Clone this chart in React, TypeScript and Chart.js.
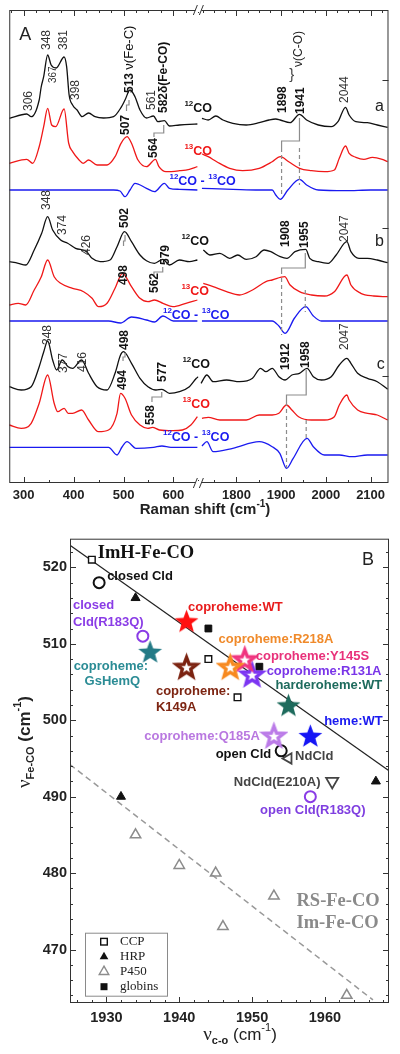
import React, { useEffect, useRef } from 'react';
import { Chart, registerables } from 'chart.js';

Chart.register(...registerables);

const SANS = '"Liberation Sans", Arial, Helvetica, sans-serif';
const SERIF = '"Liberation Serif", "Times New Roman", serif';

// ================= Panel A : resonance Raman spectra =================
const ramanTicksLow = [300, 400, 500, 600];
const ramanTicksHigh = [1800, 1900, 2000, 2100];
const ramanRangeLow = [271, 650];
const ramanRangeHigh = [1715, 2140];
const intensityRange = [0, 473];
const intensityTicks = [107, 255, 403];

// trace a (coproheme WT)
const a12Shift = [271, 306, 315, 331, 335, 340, 348, 355, 365, 381, 386, 391, 398, 407, 417, 430, 443, 460, 480, 496, 503, 513, 523, 533, 546, 560, 569, 582, 592, 612, 632, 648,
  1723, 1737, 1754, 1770, 1792, 1822, 1851, 1873, 1888, 1898, 1920, 1941, 1957, 1983, 2012, 2027, 2044, 2052, 2067, 2093, 2115, 2138];
const a12Int = [364.7, 369, 366.3, 383, 396, 406.3, 428, 418, 415, 426, 416.3, 388, 378, 373, 366.3, 370, 366.3, 365, 366.3, 376.3, 383, 393, 386.3, 373, 365, 367, 361.3, 362.3, 357, 358, 358.7, 359,
  364.7, 363, 367, 363, 359.7, 358, 360.3, 363, 364, 363, 360.3, 368.7, 363, 358, 356.3, 361.3, 375.7, 368, 361.3, 360.3, 358, 355.7];
const a13Shift = [271, 306, 318, 331, 340, 348, 356, 364, 381, 390, 398, 411, 419, 430, 447, 467, 483, 495, 507, 516, 529, 546, 564, 571, 585, 612, 632, 648,
  1723, 1737, 1756, 1785, 1814, 1851, 1880, 1898, 1917, 1941, 1968, 1997, 2019, 2030, 2044, 2052, 2067, 2085, 2104, 2126, 2138];
const a13Int = [319.7, 323.7, 319.7, 336.3, 356.3, 374.7, 358, 356.3, 374, 340, 331.3, 323, 319.7, 323, 318, 318, 326.3, 339.7, 346.3, 339.7, 323, 316.3, 323.7, 316.3, 311.3, 312.3, 313.7, 316.3,
  329, 326.3, 321.3, 314.7, 312.3, 314.7, 321.3, 326.3, 321.3, 314.7, 312.3, 311.3, 313, 324.7, 337, 329.7, 325.7, 323.7, 325.7, 323.7, 321.3];
const aDiffShift = [271, 340, 480, 493, 503, 513, 523, 546, 562, 582, 592, 612, 648,
  1723, 1792, 1851, 1880, 1888, 1898, 1915, 1941, 1957, 1983, 2044, 2100, 2138];
const aDiffInt = [293, 293, 293, 292, 286.3, 293, 299.7, 294.7, 291.3, 299.7, 294.7, 293.7, 293,
  294.7, 293.7, 293, 293, 288, 283.7, 293, 303.7, 298, 293, 292.3, 293, 293];

// trace b (harderoheme WT)
const b12Shift = [271, 289, 304, 321, 336, 348, 358, 374, 388, 404, 426, 437, 453, 473, 487, 502, 516, 533, 546, 562, 579, 592, 612, 632, 648,
  1726, 1741, 1763, 1785, 1803, 1822, 1844, 1862, 1877, 1898, 1913, 1931, 1955, 1964, 1983, 2005, 2023, 2047, 2056, 2074, 2093, 2115, 2138];
const b12Int = [221.3, 219.7, 218, 233, 249.7, 266.3, 253, 243, 239.7, 234.7, 231.3, 224.7, 221.3, 223, 236.3, 251.3, 241.3, 228, 222.3, 219.7, 223.7, 218, 223, 221.3, 223,
  233, 228, 229.7, 224.7, 228, 223.7, 226.3, 233, 231.3, 226.3, 224.7, 231.3, 233.7, 224.7, 221.3, 219.7, 228, 241.3, 231.3, 224.7, 224.7, 223, 220.3];
const b13Shift = [271, 289, 304, 321, 335, 348, 361, 374, 398, 420, 437, 450, 467, 483, 498, 516, 533, 549, 562, 579, 599, 625, 648,
  1726, 1748, 1778, 1807, 1836, 1866, 1880, 1908, 1920, 1941, 1968, 1997, 2019, 2047, 2056, 2078, 2107, 2138];
const b13Int = [178, 179.7, 178, 193, 206, 223, 206.3, 199.7, 194.7, 191.3, 184.7, 176.3, 179.7, 194.7, 209.7, 196.3, 184.7, 181.3, 183, 179.7, 176.3, 179.7, 183,
  199.7, 196.3, 191.3, 188, 193, 201.3, 203, 206.3, 198, 191.3, 188, 187, 191.3, 208, 198, 189.7, 187, 186.3];
const bDiffShift = [271, 470, 494, 516, 546, 562, 579, 600, 648,
  1723, 1880, 1895, 1909, 1930, 1955, 1972, 1990, 2138];
const bDiffInt = [162, 162, 160, 166, 163, 161, 167, 162, 162,
  162, 162, 157, 149.7, 165, 176.3, 167, 162, 162];

// trace c (heme WT)
const c12Shift = [271, 295, 315, 331, 340, 348, 358, 366, 377, 389, 398, 416, 430, 447, 467, 483, 494, 500, 516, 533, 549, 565, 577, 592, 612, 632, 646, 650,
  1721, 1734, 1748, 1778, 1807, 1836, 1854, 1866, 1880, 1895, 1909, 1924, 1941, 1958, 1972, 1990, 2012, 2030, 2047, 2056, 2071, 2093, 2115, 2138];
const c12Int = [96.3, 93, 96.3, 116.3, 131, 142, 123, 113, 123, 116.3, 114.7, 123, 109.7, 96.3, 93, 109.7, 128, 131.3, 119.7, 104.7, 96.3, 93, 93.7, 89.7, 91.3, 96.3, 104.7, 106.3,
  99.7, 108, 101.3, 103, 101.3, 104.7, 114.7, 111.3, 114.7, 106.3, 103, 108, 109.7, 114.7, 106.3, 103, 106.3, 118, 124.7, 119.7, 109.7, 104.7, 101.3, 93.7];
const c13Shift = [271, 295, 315, 331, 348, 361, 368, 381, 389, 398, 416, 430, 450, 470, 487, 494, 503, 516, 533, 549, 558, 572, 599, 618, 635, 648,
  1723, 1737, 1763, 1792, 1822, 1851, 1880, 1895, 1912, 1924, 1939, 1968, 1997, 2019, 2030, 2047, 2052, 2071, 2093, 2115, 2138];
const c13Int = [58, 54.7, 59.7, 79.7, 108, 79.7, 71.3, 74.7, 69.7, 69.7, 73, 63, 51.3, 53, 69.7, 89.7, 84.7, 68, 58, 54.7, 55.7, 53, 52.3, 53, 58, 66.3,
  64.7, 65.7, 63, 63, 63, 68, 68, 69.7, 78, 73, 66.3, 63, 63, 66.3, 78, 88, 83, 73, 69.7, 68, 63];
const cDiffShift = [271, 470, 487, 497, 507, 525, 560, 577, 595, 648,
  1723, 1734, 1748, 1792, 1851, 1880, 1897, 1912, 1927, 1958, 1972, 1997, 2030, 2058, 2093, 2138];
const cDiffInt = [35.7, 35.7, 28, 36, 41.3, 34.7, 35.7, 37, 35.7, 35.7,
  37, 41.3, 31.3, 34.7, 41.3, 36.3, 29.7, 14.7, 24.7, 44.7, 36.3, 28, 28, 26.3, 28, 28];

const BLACK = '#111111';
const RED = '#f01818';
const BLUE = '#1a1af0';
const GRAYC = '#8c8c8c';

const tracesA = [
  { shift: a12Shift, intensity: a12Int, color: BLACK },
  { shift: a13Shift, intensity: a13Int, color: RED },
  { shift: aDiffShift, intensity: aDiffInt, color: BLUE },
  { shift: b12Shift, intensity: b12Int, color: BLACK },
  { shift: b13Shift, intensity: b13Int, color: RED },
  { shift: bDiffShift, intensity: bDiffInt, color: BLUE },
  { shift: c12Shift, intensity: c12Int, color: BLACK },
  { shift: c13Shift, intensity: c13Int, color: RED },
  { shift: cDiffShift, intensity: cDiffInt, color: BLUE },
];

// peak labels: [text, shift, intensity at text start, bold, size]
const peakLabelsA: [string, number, number, boolean, number][] = [
  ['306', 309, 372, false, 12], ['348', 347, 433, false, 12], ['367', 360, 400, false, 10], ['381', 380, 433, false, 12], ['398', 404, 383, false, 12],
  ['561', 557, 373, false, 12], ['1898', 1903, 370, true, 12], ['1941', 1943, 369, true, 12], ['2044', 2042, 380, false, 12],
  ['507', 505, 348, true, 12], ['564', 561, 325, true, 12],
  ['348', 347, 273, false, 12], ['374', 378, 248, false, 12], ['426', 426, 228, false, 12], ['502', 503, 255, true, 12], ['579', 584, 218, true, 12],
  ['1908', 1910, 236, true, 12], ['1955', 1952, 235, true, 12], ['2047', 2042, 241, false, 12], ['498', 501, 198, true, 12], ['562', 562, 190, true, 12],
  ['348', 349, 138, false, 12], ['377', 380, 110, false, 12], ['416', 418, 111, false, 12], ['498', 503, 133, true, 12], ['494', 499, 93, true, 12],
  ['577', 578, 101, true, 12], ['558', 555, 58, true, 12], ['1912', 1910, 113, true, 12], ['1958', 1956, 115, true, 12], ['2047', 2042, 133, false, 12],
];
// isotope tags: [kind, shift, intensity]
const isoTags: [string, number, number][] = [
  ['12', 622, 374], ['13', 622, 331], ['d', 592, 301],
  ['12', 616, 241], ['13', 616, 191], ['d', 579, 167],
  ['12', 618, 118], ['13', 618, 78], ['d', 579, 45],
];
const traceLetters: [string, number, number][] = [['a', 2110, 376], ['b', 2110, 241], ['c', 2114, 118]];
// gray connectors: [dashed, points]
const connectorsA: [boolean, number[][]][] = [
  [false, [[1941, 365], [1941, 342], [1901, 342], [1901, 335]]],
  [true, [[1901, 335], [1901, 288]]],
  [true, [[1941, 335], [1941, 298]]],
  [false, [[511, 383], [511, 378], [506, 378], [506, 372]]],
  [false, [[580.6, 358], [580.6, 350], [561, 350], [561, 346]]],
  [false, [[1954, 230], [1954, 215], [1901, 215], [1901, 209]]],
  [true, [[1901, 205], [1901, 148]]],
  [true, [[1954, 193], [1954, 171]]],
  [false, [[578.6, 216], [578.6, 211], [561, 211], [561, 206]]],
  [false, [[503, 248], [503, 242], [500, 242], [500, 237]]],
  [false, [[1956, 113], [1956, 88], [1912, 88], [1912, 81]]],
  [true, [[1912, 81], [1912, 15]]],
  [true, [[1956, 63], [1956, 43]]],
  [false, [[576.6, 91], [576.6, 86], [557, 86], [557, 81]]],
  [false, [[503, 130], [503, 126], [499, 126], [499, 122]]],
];

// ================= Panel B : backbonding correlation =================
const coTicks = [1930, 1940, 1950, 1960];
const feCTicks = [470, 480, 490, 500, 510, 520];
const coRange = [1925, 1968.8];
const feCRange = [463, 523.75];

const ccpCO = [1928, 1944, 1948];
const ccpFeC = [521, 508, 503];
const hrpCO = [1934, 1932, 1967];
const hrpFeC = [516, 490, 492];
const p450CO = [1934, 1940, 1945, 1946, 1953, 1963];
const p450FeC = [485, 481, 480, 473, 477, 464];
const globinCO = [1944, 1951];
const globinFeC = [512, 507];

const sampleNames = ['closed Cld', 'closed Cld(R183Q)', 'coproheme:GsHemQ', 'coproheme:WT', 'coproheme:K149A', 'coproheme:R218A',
  'coproheme:Y145S', 'coproheme:R131A', 'harderoheme:WT', 'heme:WT', 'coproheme:Q185A', 'open Cld', 'NdCld', 'NdCld(E210A)', 'open Cld(R183Q)'];
const sampleCO = [1929, 1935, 1936, 1941, 1941, 1947, 1949, 1950, 1955, 1958, 1953, 1954, 1955, 1961, 1958];
const sampleFeC = [518, 511, 509, 513, 507, 507, 508, 506, 502, 498, 498, 496, 495, 492, 490];

const imFitCO = [1925, 1968.8];
const imFitFeC = [522.9, 493.4];
const rsFitCO = [1925, 1966.6];
const rsFitFeC = [494.2, 463.4];

// label placement (data coords of text start, centre line)
const sampleLabelLines: [string, number, number][][] = [
  [['closed Cld', 1930.1, 518.8]],
  [['closed', 1925.4, 515.0], ['Cld(R183Q)', 1925.4, 512.8]],
  [['coproheme:', 1925.5, 507.1], ['GsHemQ', 1927.0, 505.1]],
  [['coproheme:WT', 1941.2, 514.7]],
  [['coproheme:', 1936.8, 503.8], ['K149A', 1936.8, 501.7]],
  [['coproheme:R218A', 1945.4, 510.6]],
  [['coproheme:Y145S', 1950.5, 508.4]],
  [['coproheme:R131A', 1952.0, 506.4]],
  [['harderoheme:WT', 1953.2, 504.5]],
  [['heme:WT', 1959.9, 499.8]],
  [['coproheme:Q185A', 1935.2, 497.9]],
  [['open Cld', 1945.0, 495.5]],
  [['NdCld', 1955.9, 495.2]],
  [['NdCld(E210A)', 1947.5, 491.8]],
  [['open Cld(R183Q)', 1951.1, 488.2]],
];
const regionLabels: [string, number, number, string][] = [
  ['ImH-Fe-CO', 1928.8, 521.9, '#111111'],
  ['RS-Fe-CO', 1956.1, 476.3, '#8a8a8a'],
  ['Im-Fe-CO', 1956.1, 473.4, '#8a8a8a'],
];

const sampleStyles = [
  { shape: 'circle', color: '#111111', text: '#111111' },
  { shape: 'circle', color: '#8a3ce6', text: '#8a3ce6' },
  { shape: 'starF', color: '#237a86', text: '#2b8c95' },
  { shape: 'starF', color: '#ff1010', text: '#e81c1c' },
  { shape: 'starO', color: '#7b2210', text: '#7d2512' },
  { shape: 'starO', color: '#f7891f', text: '#f08a2a' },
  { shape: 'starO', color: '#f0357f', text: '#e8317a' },
  { shape: 'starO', color: '#7c35f2', text: '#7a35e8' },
  { shape: 'starF', color: '#1e6b5d', text: '#1e6b5d' },
  { shape: 'starF', color: '#1515f5', text: '#1a1af0' },
  { shape: 'starO', color: '#bb7be8', text: '#b978e0' },
  { shape: 'circle', color: '#111111', text: '#111111' },
  { shape: 'triL', color: '#444444', text: '#444444' },
  { shape: 'triD', color: '#444444', text: '#444444' },
  { shape: 'circle', color: '#8a3ce6', text: '#7f3fe0' },
];

type Run = { t: string; f: string; dy?: number; c?: string };

function drawRuns(ctx: CanvasRenderingContext2D, runs: Run[], x: number, y: number, rotate: boolean, color: string, align = 'left') {
  ctx.save();
  ctx.translate(x, y);
  if (rotate) ctx.rotate(-Math.PI / 2);
  let total = 0;
  for (const r of runs) { ctx.font = r.f; total += ctx.measureText(r.t).width; }
  let cx = align === 'center' ? -total / 2 : 0;
  ctx.textAlign = 'left';
  ctx.textBaseline = 'middle';
  for (const r of runs) {
    ctx.font = r.f;
    ctx.fillStyle = r.c || color;
    ctx.fillText(r.t, cx, r.dy || 0);
    cx += ctx.measureText(r.t).width;
  }
  ctx.restore();
}

function makeStar(color: string, filled: boolean) {
  const R = filled ? 12.5 : 10.5;
  const lw = filled ? 0 : 3.4;
  const size = Math.ceil(2 * R + lw + 4);
  const c = document.createElement('canvas');
  c.width = size;
  c.height = size;
  const g = c.getContext('2d') as CanvasRenderingContext2D;
  const cx = size / 2;
  const cy = size / 2 + R * 0.1;
  const r = R * 0.42;
  g.beginPath();
  for (let i = 0; i < 10; i++) {
    const ang = -Math.PI / 2 + (i * Math.PI) / 5;
    const rr = i % 2 === 0 ? R : r;
    g.lineTo(cx + rr * Math.cos(ang), cy + rr * Math.sin(ang));
  }
  g.closePath();
  if (filled) {
    g.fillStyle = color;
    g.fill();
  } else {
    g.fillStyle = '#ffffff';
    g.fill();
    g.lineJoin = 'miter';
    g.lineWidth = lw;
    g.strokeStyle = color;
    g.stroke();
  }
  return c;
}

function rangeSteps(min: number, max: number, step: number) {
  const out: number[] = [];
  for (let v = Math.ceil(min / step) * step; v <= max + 1e-9; v += step) out.push(v);
  return out;
}

const panelAPlugin = {
  id: 'panelA',
  afterDatasetsDraw(chart: any) {
    const ctx = chart.ctx as CanvasRenderingContext2D;
    const xL = chart.scales.xL;
    const xR = chart.scales.xR;
    const ys = chart.scales.y;
    const px = (v: number) => (v < 1000 ? xL : xR).getPixelForValue(v);
    const py = (v: number) => ys.getPixelForValue(v);
    ctx.save();
    ctx.strokeStyle = '#8c8c8c';
    ctx.lineWidth = 1.2;
    for (const [dashed, pts] of connectorsA) {
      ctx.setLineDash(dashed ? [4, 3] : []);
      ctx.beginPath();
      pts.forEach(([v, i], k) => (k ? ctx.lineTo(px(v), py(i)) : ctx.moveTo(px(v), py(i))));
      ctx.stroke();
    }
    ctx.setLineDash([]);
    for (const [t, v, i, bold, size] of peakLabelsA) {
      drawRuns(ctx, [{ t, f: `${bold ? 'bold ' : ''}${size}px ${SANS}` }], px(v), py(i), true, bold ? '#111' : '#333');
    }
    drawRuns(ctx, [{ t: '513 ', f: `bold 12px ${SANS}` }, { t: 'ν(Fe-C)', f: `13px ${SANS}` }], px(512), py(390), true, '#111');
    drawRuns(ctx, [{ t: '582δ(Fe-CO)', f: `bold 12px ${SANS}` }], px(581), py(370), true, '#111');
    drawRuns(ctx, [{ t: 'ν(C-O)', f: `12px ${SANS}` }], px(1939), py(416), true, '#222');
    drawRuns(ctx, [{ t: '}', f: `15px ${SANS}` }], px(1918), py(408), false, '#444');
    for (const [kind, v, i] of isoTags) {
      const sup = `bold 8px ${SANS}`;
      const main = `bold 12.5px ${SANS}`;
      if (kind === 'd') {
        drawRuns(ctx, [{ t: '12', f: sup, dy: -5 }, { t: 'CO - ', f: main }, { t: '13', f: sup, dy: -5 }, { t: 'CO', f: main }], px(v), py(i), false, BLUE);
      } else {
        drawRuns(ctx, [{ t: kind, f: sup, dy: -5 }, { t: 'CO', f: main }], px(v), py(i), false, kind === '12' ? BLACK : RED);
      }
    }
    for (const [t, v, i] of traceLetters) {
      drawRuns(ctx, [{ t, f: `16px ${SANS}` }], px(v), py(i), false, '#222');
    }
    ctx.restore();
  },
  afterDraw(chart: any) {
    const ctx = chart.ctx as CanvasRenderingContext2D;
    const a = chart.chartArea;
    const xL = chart.scales.xL;
    const xR = chart.scales.xR;
    const ys = chart.scales.y;
    ctx.save();
    ctx.strokeStyle = '#333';
    ctx.lineWidth = 1;
    ctx.strokeRect(a.left + 0.5, a.top + 0.5, a.right - a.left - 1, a.bottom - a.top - 1);
    ctx.beginPath();
    const scales = [[xL, ramanRangeLow, ramanTicksLow], [xR, ramanRangeHigh, ramanTicksHigh]];
    for (const [sc, rg, majors] of scales as any) {
      for (const v of rangeSteps(rg[0], rg[1], 50)) {
        const x = Math.round(sc.getPixelForValue(v)) + 0.5;
        const len = majors.includes(v) ? 6 : 3;
        ctx.moveTo(x, a.bottom);
        ctx.lineTo(x, a.bottom - len);
      }
      for (const v of rangeSteps(rg[0], rg[1], 25)) {
        const x = Math.round(sc.getPixelForValue(v)) + 0.5;
        const len = majors.includes(v) ? 6 : 3;
        ctx.moveTo(x, a.top);
        ctx.lineTo(x, a.top + len);
      }
    }
    for (const v of intensityTicks) {
      const y = Math.round(ys.getPixelForValue(v)) + 0.5;
      ctx.moveTo(a.right, y);
      ctx.lineTo(a.right - 6, y);
    }
    ctx.stroke();
    // axis break marks
    const bx = xL.right;
    for (const yb of [a.top, a.bottom]) {
      ctx.fillStyle = '#fff';
      ctx.fillRect(bx - 3, yb - 2, 6, 4);
      ctx.beginPath();
      ctx.moveTo(bx - 5, yb + 5);
      ctx.lineTo(bx - 1, yb - 5);
      ctx.moveTo(bx + 1, yb + 5);
      ctx.lineTo(bx + 5, yb - 5);
      ctx.stroke();
    }
    drawRuns(ctx, [{ t: 'A', f: `18px ${SANS}` }], a.left + 10, a.top + 25, false, '#222');
    drawRuns(ctx, [{ t: 'Raman shift (cm', f: `bold 15px ${SANS}` }, { t: '-1', f: `bold 10px ${SANS}`, dy: -6 }, { t: ')', f: `bold 15px ${SANS}` }],
      205, 510, false, '#222', 'center');
    ctx.restore();
  },
};

function drawShape(ctx: CanvasRenderingContext2D, kind: string, x: number, y: number) {
  ctx.save();
  ctx.lineWidth = 1.4;
  if (kind === 'ccp') {
    ctx.strokeStyle = '#111';
    ctx.strokeRect(x - 3.3, y - 3.3, 6.6, 6.6);
  } else if (kind === 'glob') {
    ctx.fillStyle = '#111';
    ctx.fillRect(x - 3.5, y - 3.5, 7, 7);
  } else {
    const r = kind === 'hrp' ? 5 : 5.5;
    ctx.beginPath();
    ctx.moveTo(x, y - r);
    ctx.lineTo(x + r * 0.866, y + r * 0.5);
    ctx.lineTo(x - r * 0.866, y + r * 0.5);
    ctx.closePath();
    if (kind === 'hrp') {
      ctx.fillStyle = '#111';
      ctx.fill();
    } else {
      ctx.strokeStyle = GRAYC;
      ctx.stroke();
    }
  }
  ctx.restore();
}

const panelBPlugin = {
  id: 'panelB',
  afterDatasetsDraw(chart: any) {
    const ctx = chart.ctx as CanvasRenderingContext2D;
    const xs = chart.scales.x;
    const ys = chart.scales.y;
    const a = chart.chartArea;
    ctx.save();
    sampleLabelLines.forEach((lines, i) => {
      for (const [t, x, y] of lines) {
        drawRuns(ctx, [{ t, f: `bold 13px ${SANS}` }], xs.getPixelForValue(x), ys.getPixelForValue(y), false, sampleStyles[i].text);
      }
    });
    for (const [t, x, y, c] of regionLabels) {
      drawRuns(ctx, [{ t, f: `bold 18.5px ${SERIF}` }], xs.getPixelForValue(x), ys.getPixelForValue(y), false, c);
    }
    drawRuns(ctx, [{ t: 'B', f: `18px ${SANS}` }], a.right - 27, a.top + 21, false, '#222');
    // legend
    const lx = a.left + 15;
    const ly = a.top + 394;
    ctx.fillStyle = '#fff';
    ctx.fillRect(lx, ly, 82, 63);
    ctx.strokeStyle = '#8a8a8a';
    ctx.lineWidth = 1;
    ctx.strokeRect(lx + 0.5, ly + 0.5, 82, 63);
    const entries: [string, string][] = [['ccp', 'CCP'], ['hrp', 'HRP'], ['p450', 'P450'], ['glob', 'globins']];
    entries.forEach(([k, t], j) => {
      const yy = ly + 9 + j * 15;
      drawShape(ctx, k, lx + 19, yy);
      drawRuns(ctx, [{ t, f: `13px ${SERIF}` }], lx + 35, yy, false, '#222');
    });
    ctx.restore();
  },
  afterDraw(chart: any) {
    const ctx = chart.ctx as CanvasRenderingContext2D;
    const a = chart.chartArea;
    const xs = chart.scales.x;
    const ys = chart.scales.y;
    ctx.save();
    ctx.strokeStyle = '#333';
    ctx.lineWidth = 1;
    ctx.strokeRect(a.left + 0.5, a.top + 0.5, a.right - a.left - 1, a.bottom - a.top - 1);
    ctx.beginPath();
    for (const v of rangeSteps(coRange[0], coRange[1], 2)) {
      const x = Math.round(xs.getPixelForValue(v)) + 0.5;
      const len = coTicks.includes(v) ? 6 : 3;
      ctx.moveTo(x, a.bottom);
      ctx.lineTo(x, a.bottom - len);
    }
    for (const v of rangeSteps(feCRange[0], feCRange[1], 2)) {
      const y = Math.round(ys.getPixelForValue(v)) + 0.5;
      const len = feCTicks.includes(v) ? 6 : 3;
      ctx.moveTo(a.left, y);
      ctx.lineTo(a.left + len, y);
      ctx.moveTo(a.right, y);
      ctx.lineTo(a.right - len, y);
    }
    ctx.stroke();
    drawRuns(ctx, [
      { t: 'ν', f: `19px ${SERIF}` },
      { t: 'Fe-CO', f: `bold 11px ${SANS}`, dy: 6 },
      { t: ' (cm', f: `bold 17px ${SANS}` },
      { t: '-1', f: `bold 11px ${SANS}`, dy: -7 },
      { t: ')', f: `bold 17px ${SANS}` },
    ], 25, 215, true, '#222', 'center');
    drawRuns(ctx, [
      { t: 'ν', f: `19px ${SERIF}` },
      { t: 'c-o', f: `bold 11px ${SANS}`, dy: 6 },
      { t: ' (cm', f: `17px ${SANS}` },
      { t: '-1', f: `11px ${SANS}`, dy: -7 },
      { t: ')', f: `17px ${SANS}` },
    ], 240, 508, false, '#222', 'center');
    ctx.restore();
  },
};

const plainLabel = (v: any) => String(v);

export default function App() {
  const refA = useRef<HTMLCanvasElement | null>(null);
  const refB = useRef<HTMLCanvasElement | null>(null);

  useEffect(() => {
    if (!refA.current || !refB.current) return;

    // ---------- Panel A ----------
    const datasetsA: any[] = [];
    tracesA.forEach((tr) => {
      const low = tr.shift.map((s, k) => ({ x: s, y: tr.intensity[k] })).filter((p) => p.x < 1000);
      const high = tr.shift.map((s, k) => ({ x: s, y: tr.intensity[k] })).filter((p) => p.x >= 1000);
      for (const [data, axis] of [[low, 'xL'], [high, 'xR']] as any) {
        datasetsA.push({
          data,
          xAxisID: axis,
          yAxisID: 'y',
          borderColor: tr.color,
          borderWidth: 1.3,
          pointRadius: 0,
          cubicInterpolationMode: 'monotone',
          fill: false,
        });
      }
    });
    const tickFontA = { family: SANS, size: 13, weight: 'bold' as const };
    const chartA = new Chart(refA.current, {
      type: 'line',
      data: { datasets: datasetsA },
      options: {
        animation: false,
        responsive: false,
        devicePixelRatio: 1,
        layout: { padding: { left: 8, right: 9, top: 10, bottom: 0 } },
        plugins: { legend: { display: false }, tooltip: { enabled: false } },
        scales: {
          xL: {
            type: 'linear', position: 'bottom', stack: 'raman', stackWeight: 191,
            min: ramanRangeLow[0], max: ramanRangeLow[1],
            grid: { display: false, drawTicks: false }, border: { display: false },
            ticks: { font: tickFontA, color: '#222', padding: 5, maxRotation: 0, autoSkip: false, callback: plainLabel },
            afterBuildTicks: (s: any) => { s.ticks = ramanTicksLow.map((v) => ({ value: v })); },
            afterFit: (s: any) => { s.height = 44; },
          },
          xR: {
            type: 'linear', position: 'bottom', stack: 'raman', stackWeight: 192,
            min: ramanRangeHigh[0], max: ramanRangeHigh[1],
            grid: { display: false, drawTicks: false }, border: { display: false },
            ticks: { font: tickFontA, color: '#222', padding: 5, maxRotation: 0, autoSkip: false, callback: plainLabel },
            afterBuildTicks: (s: any) => { s.ticks = ramanTicksHigh.map((v) => ({ value: v })); },
            afterFit: (s: any) => { s.height = 44; },
          },
          y: { type: 'linear', display: false, min: intensityRange[0], max: intensityRange[1] },
        },
      } as any,
      plugins: [panelAPlugin],
    });

    // ---------- Panel B ----------
    const starCache: Record<string, HTMLCanvasElement> = {};
    const sampleDatasets = sampleNames.map((name, i) => {
      const st = sampleStyles[i];
      const base: any = {
        label: name,
        data: [{ x: sampleCO[i], y: sampleFeC[i] }],
        pointRotation: 0,
      };
      if (st.shape === 'starF' || st.shape === 'starO') {
        const key = st.shape + st.color;
        if (!starCache[key]) starCache[key] = makeStar(st.color, st.shape === 'starF');
        return { ...base, pointStyle: starCache[key], pointRadius: 10 };
      }
      if (st.shape === 'circle') {
        return { ...base, pointStyle: 'circle', pointRadius: 5.5, pointBorderWidth: 2, pointBorderColor: st.color, pointBackgroundColor: 'rgba(255,255,255,0)' };
      }
      return {
        ...base,
        pointStyle: 'triangle',
        pointRotation: st.shape === 'triL' ? -90 : 180,
        pointRadius: st.shape === 'triL' ? 6 : 7,
        pointBorderWidth: 1.8,
        pointBorderColor: st.color,
        pointBackgroundColor: 'rgba(255,255,255,0)',
      };
    });
    const toXY = (xs: number[], ys: number[]) => xs.map((x, k) => ({ x, y: ys[k] }));
    const tickFontB = { family: SANS, size: 14.5, weight: 'bold' as const };
    const chartB = new Chart(refB.current, {
      type: 'scatter',
      data: {
        datasets: [
          ...sampleDatasets,
          { label: 'CCP', data: toXY(ccpCO, ccpFeC), pointStyle: 'rect', pointRadius: 4.7, pointBorderWidth: 1.4, pointBorderColor: '#111', pointBackgroundColor: '#fff' },
          { label: 'HRP', data: toXY(hrpCO, hrpFeC), pointStyle: 'triangle', pointRadius: 5.2, pointBorderWidth: 1, pointBorderColor: '#111', pointBackgroundColor: '#111' },
          { label: 'P450', data: toXY(p450CO, p450FeC), pointStyle: 'triangle', pointRadius: 6, pointBorderWidth: 1.5, pointBorderColor: GRAYC, pointBackgroundColor: 'rgba(255,255,255,0)' },
          { label: 'globins', data: toXY(globinCO, globinFeC), pointStyle: 'rect', pointRadius: 4.8, pointBorderWidth: 1, pointBorderColor: '#111', pointBackgroundColor: '#111' },
          { label: 'ImH fit', data: toXY(imFitCO, imFitFeC), showLine: true, borderColor: '#222', borderWidth: 1.2, pointRadius: 0, order: 10 },
          { label: 'RS fit', data: toXY(rsFitCO, rsFitFeC), showLine: true, borderColor: '#999', borderWidth: 1.5, borderDash: [6, 4], pointRadius: 0, order: 10 },
        ],
      },
      options: {
        animation: false,
        responsive: false,
        devicePixelRatio: 1,
        layout: { padding: { left: 0, right: 9, top: 6, bottom: 0 } },
        plugins: { legend: { display: false }, tooltip: { enabled: false } },
        scales: {
          x: {
            type: 'linear', min: coRange[0], max: coRange[1],
            grid: { display: false, drawTicks: false }, border: { display: false },
            ticks: { font: tickFontB, color: '#222', padding: 6, maxRotation: 0, autoSkip: false, callback: plainLabel },
            afterBuildTicks: (s: any) => { s.ticks = coTicks.map((v) => ({ value: v })); },
            afterFit: (s: any) => { s.height = 51; },
          },
          y: {
            type: 'linear', min: feCRange[0], max: feCRange[1],
            grid: { display: false, drawTicks: false }, border: { display: false },
            ticks: { font: tickFontB, color: '#222', padding: 3, autoSkip: false, callback: plainLabel },
            afterBuildTicks: (s: any) => { s.ticks = feCTicks.map((v) => ({ value: v })); },
            afterFit: (s: any) => { s.width = 70; },
          },
        },
      } as any,
      plugins: [panelBPlugin],
    });

    return () => {
      chartA.destroy();
      chartB.destroy();
    };
  }, []);

  return (
    <div style={{ position: 'absolute', left: 0, top: 0, width: 400, height: 1054, background: '#ffffff' }}>
      <canvas ref={refA} width={400} height={527} style={{ position: 'absolute', left: 0, top: 0, width: 400, height: 527 }} />
      <canvas ref={refB} width={400} height={527} style={{ position: 'absolute', left: 0, top: 527, width: 400, height: 527 }} />
    </div>
  );
}
